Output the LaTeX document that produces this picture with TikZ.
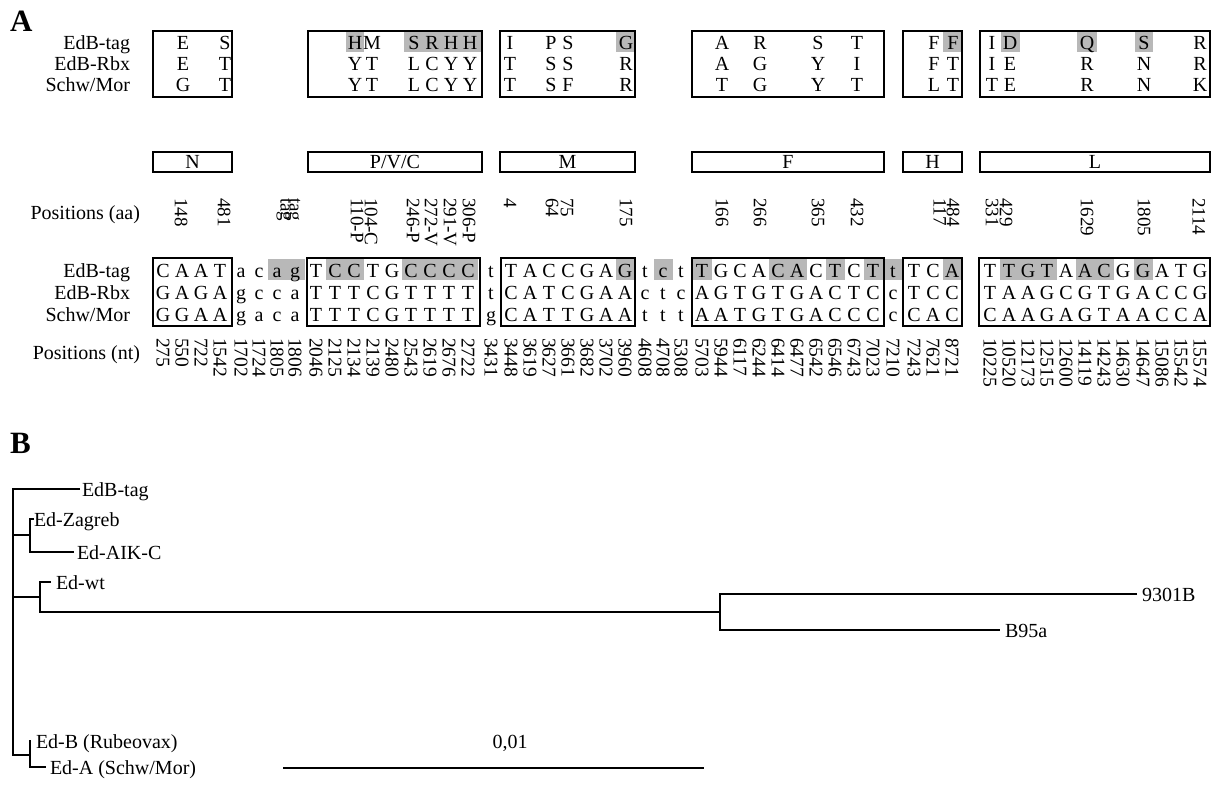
\documentclass[tikz,border=0pt]{standalone}
\usepackage{fontspec}
\setmainfont{Liberation Serif}
\newcommand{\fsz}[1]{\fontsize{#1}{#1}\selectfont}
\begin{document}
\begin{tikzpicture}[x=1pt,y=-1pt,
  every node/.style={inner sep=0pt,outer sep=0pt,font=\fsz{20}},
  rowlab/.style={anchor=base east},
  seqch/.style={anchor=base},
  bx/.style={draw,line width=1.3pt},
  lbox/.style={draw,line width=1.3pt,minimum height=20pt},
  shd/.style={fill=black!28},
  rotnum/.style={rotate=-90,anchor=west,font=\fsz{19}},
  ntnum/.style={rotate=-90,anchor=west,font=\fsz{19.5}},
  br/.style={line width=1.8pt},
  panel/.style={anchor=base west,font=\fsz{31}\bfseries}]
\useasboundingbox[fill=white] (0,0) rectangle (1218,793);

% ---------------- Panel A ----------------
\node[panel] (pA) at (10,31) {A};

\node[rowlab] (ra1) at (130,49) {EdB-tag};
\node[rowlab] (ra2) at (130,70) {EdB-Rbx};
\node[rowlab] (ra3) at (130,91) {Schw/Mor};

% shading (aa)
\foreach \l/\r in {346/364,404/481,616/635,943/961,1001/1020,1077/1097,1135/1153}
  \fill[shd] (\l,32) rectangle (\r,52);

% boxes (aa)
\foreach \l/\r in {153/232,308/482,500/635,692/884,903/962,980/1210}
  \draw[bx] (\l,31) rectangle (\r,97);

\foreach \x/\a/\b/\c [count=\i] in {183/E/E/G,225/S/T/T,355/H/Y/Y,372/M/T/T,414/S/L/L,432/R/C/C,451/H/Y/Y,470/H/Y/Y,510/I/T/T,551/P/S/S,568/S/S/F,626/G/R/R,722/A/A/T,760/R/G/G,818/S/Y/Y,857/T/I/T,934/F/F/L,953/F/T/T,992/I/I/T,1010/D/E/E,1087/Q/R/R,1144/S/N/N,1200/R/R/K}{
  \node[seqch] (aa1-\i) at (\x,49) {\a};
  \node[seqch] (aa2-\i) at (\x,70) {\b};
  \node[seqch] (aa3-\i) at (\x,91) {\c};
}

% gene boxes
\node[lbox,minimum width=79pt] (gN) at (192.5,162) {N};
\node[lbox,minimum width=174pt] (gP) at (395,162) {P/V/C};
\node[lbox,minimum width=135pt] (gM) at (567.5,162) {M};
\node[lbox,minimum width=192pt] (gF) at (788,162) {F};
\node[lbox,minimum width=59pt] (gH) at (932.5,162) {H};
\node[lbox,minimum width=230pt] (gL) at (1095,162) {L};

% positions (aa)
\node[anchor=base east] (posaa) at (140,219) {Positions (aa)};
\foreach \x/\t [count=\i] in {181/148,224/481,284/tag,293/tag,357/110-P,371/104-C,413/246-P,431/272-V,450/291-V,469/306-P,510/4,552/64,567/75,626/175,722/166,760/266,818/365,857/432,940/117,953/484,992/331,1006/429,1087/1629,1144/1805,1199/2114}
  \node[rotnum] (paa\i) at (\x,198) {\t};

% ---------------- nucleotides ----------------
\node[rowlab] (rn1) at (130,277) {EdB-tag};
\node[rowlab] (rn2) at (130,299) {EdB-Rbx};
\node[rowlab] (rn3) at (130,321) {Schw/Mor};
\node[anchor=base east] (posnt) at (140,359) {Positions (nt)};

\foreach \x/\a/\b/\c/\s/\n [count=\i] in {
163/C/G/G/0/275,182/A/A/G/0/550,201/A/G/A/0/722,220/T/A/A/0/1542,
241/a/g/g/0/1702,259/c/c/a/0/1724,277/a/c/c/1/1805,295/g/a/a/1/1806,
316/T/T/T/0/2046,335/C/T/T/1/2125,354/C/T/T/1/2134,373/T/C/C/0/2139,392/G/G/G/0/2480,411/C/T/T/1/2543,430/C/T/T/1/2619,449/C/T/T/1/2676,468/C/T/T/1/2722,
491/t/t/g/0/3431,
511/T/C/C/0/3448,530/A/A/A/0/3619,549/C/T/T/0/3627,568/C/C/T/0/3661,587/G/G/G/0/3682,606/A/A/A/0/3702,625/G/A/A/1/3960,
645/t/c/t/0/4608,663/c/t/t/1/4708,681/t/c/t/0/5308,
702/T/A/A/1/5703,721/G/G/A/0/5944,740/C/T/T/0/6117,759/A/G/G/0/6244,778/C/T/T/1/6414,797/A/G/G/1/6477,816/C/A/A/0/6542,835/T/C/C/1/6546,854/C/T/C/0/6743,873/T/C/C/1/7023,
893/t/c/c/1/7210,
914/T/T/C/0/7243,933/C/C/A/0/7621,952/A/C/C/1/8721,
990/T/T/C/0/10225,1009/T/A/A/1/10520,1028/G/A/A/1/12173,1047/T/G/G/1/12515,1066/A/C/A/0/12600,1085/A/G/G/1/14119,1104/C/T/T/1/14243,1123/G/G/A/0/14630,1143/G/A/A/1/14647,1162/A/C/C/0/15086,1181/T/C/C/0/15542,1200/G/G/A/0/15574}{
  \ifnum\s=1 \fill[shd] (\x-9.5,259) rectangle (\x+9.5,280); \fi
  \node[seqch] (nt1-\i) at (\x,277) {\a};
  \node[seqch] (nt2-\i) at (\x,299) {\b};
  \node[seqch] (nt3-\i) at (\x,321) {\c};
  \node[ntnum] (pnt\i) at (\x,338) {\n};
}

\foreach \l/\r in {153/232,307/480,501/635,692/884,903/962,979/1210}
  \draw[bx] (\l,258) rectangle (\r,326);

% ---------------- Panel B ----------------
\node[panel] (pB) at (10,453) {B};

\coordinate (root) at (13,489);
\coordinate (rootb) at (13,755);
\coordinate (za) at (30,535);
\coordinate (wt) at (40,597);
\coordinate (ba) at (30,755);
\coordinate (nx) at (720,612);

\draw[br] (80,489) -- (root) -- (rootb) -- (ba);
\node[anchor=base west] (lEdB) at (82,496) {EdB-tag};

\draw[br] (13,535) -- (za);
\draw[br] (34,519) -- (30,519) -- (30,552) -- (74,552);
\node[anchor=base west] (lZag) at (34,526) {Ed-Zagreb};
\node[anchor=base west] (lAIK) at (77,559) {Ed-AIK-C};

\draw[br] (13,597) -- (wt);
\draw[br] (51,582) -- (40,582) -- (40,612) -- (nx);
\node[anchor=base west] (lwt) at (56,589) {Ed-wt};

\draw[br] (1137,594) -- (720,594) -- (720,630) -- (1000,630);
\node[anchor=base west] (l93) at (1142,601) {9301B};
\node[anchor=base west] (l95) at (1005,637) {B95a};

\draw[br] (31,741) -- (30,741) -- (30,767) -- (46,767);
\node[anchor=base west] (lEdBR) at (36,748) {Ed-B (Rubeovax)};
\node[anchor=base west] (lEdA) at (50,774) {Ed-A (Schw/Mor)};

\coordinate (sb1) at (283,768);
\coordinate (sb2) at (704,768);
\draw[br] (sb1) -- (sb2);
\node[anchor=base] (sbl) at (510,748) {0,01};
\end{tikzpicture}
\end{document}
